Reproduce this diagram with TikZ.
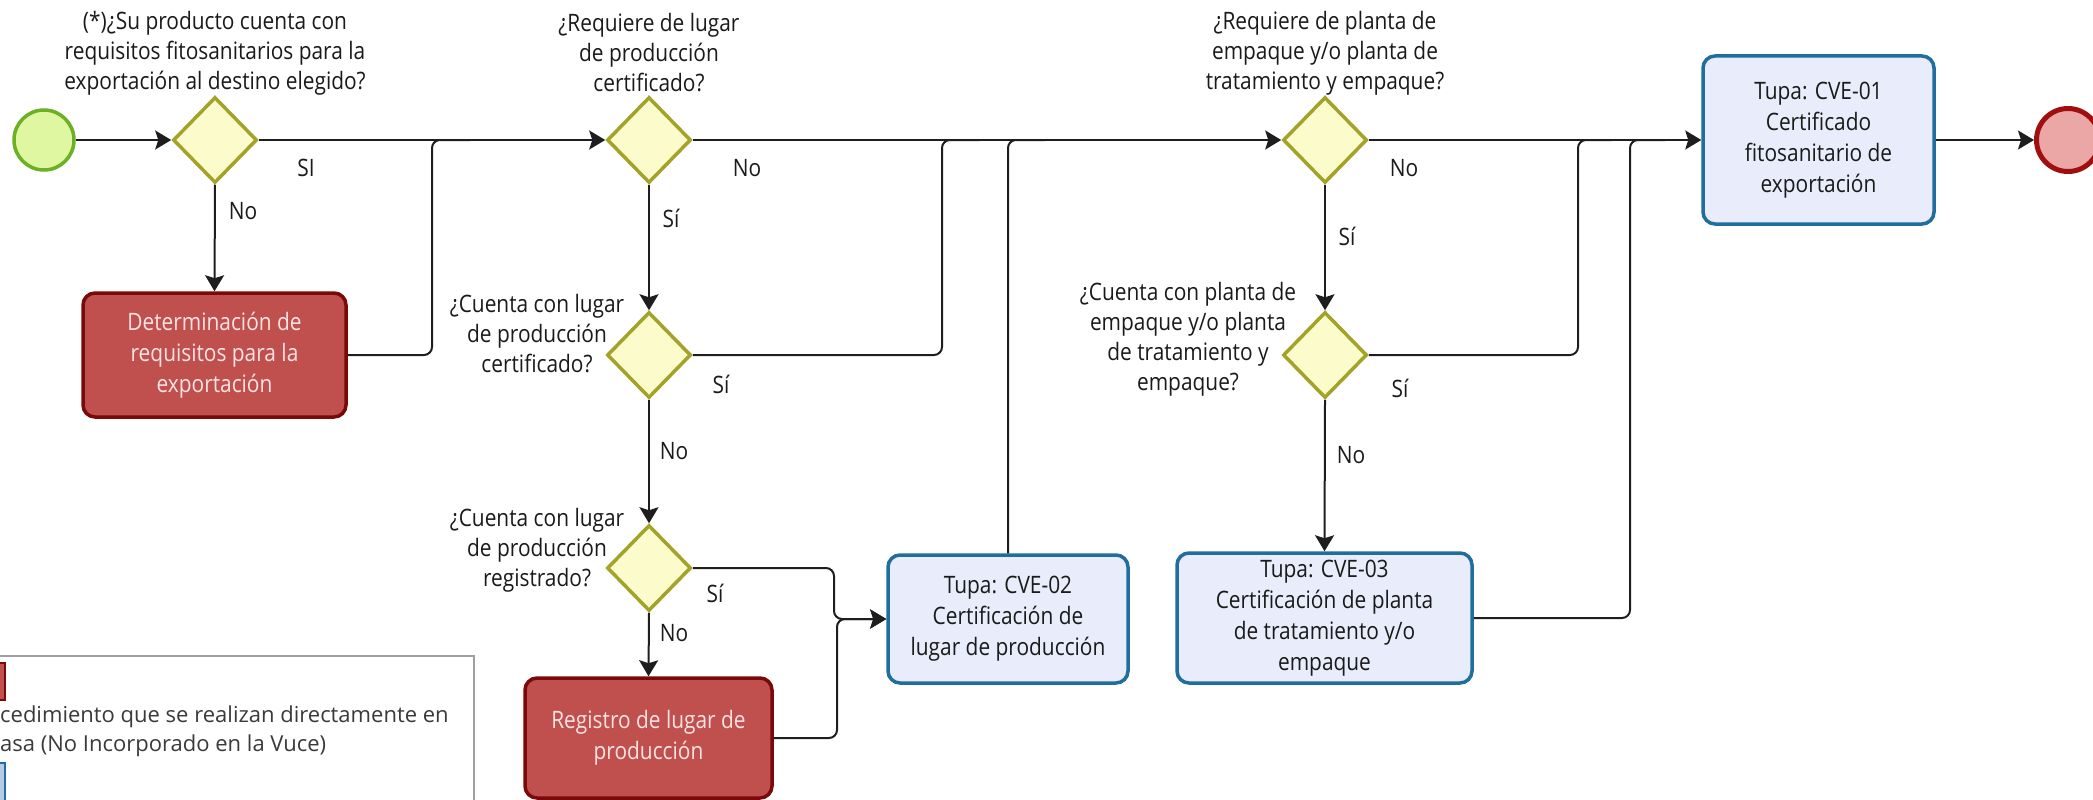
\documentclass[tikz,border=0pt]{standalone}
\usepackage{fontspec}
\setmainfont{Open Sans}[FakeStretch=0.87]
\newfontfamily\legfont{Open Sans}
\usetikzlibrary{shapes.geometric,arrows.meta}
\definecolor{gateF}{HTML}{FBFBCC}
\definecolor{gateB}{HTML}{A3A32A}
\definecolor{startF}{HTML}{DFF7A0}
\definecolor{startB}{HTML}{6CB023}
\definecolor{endF}{HTML}{EBA6A6}
\definecolor{endB}{HTML}{A00E0E}
\definecolor{redF}{HTML}{C0504E}
\definecolor{redB}{HTML}{7A0A0A}
\definecolor{redT}{HTML}{FBE3E3}
\definecolor{blueF}{HTML}{E9EDFB}
\definecolor{blueB}{HTML}{1F6E9E}
\definecolor{lineC}{HTML}{1E1E1E}
\definecolor{txt}{HTML}{1A1A1A}
\definecolor{legB}{HTML}{A0A0A0}
\definecolor{legT}{HTML}{3A3A3A}
\definecolor{legBlue}{HTML}{B8CAE8}
\begin{document}
\begin{tikzpicture}[x=1pt,y=-1pt,
  gate/.style={diamond, draw=gateB, fill=gateF, line width=3.5pt, minimum width=84pt, minimum height=86pt, inner sep=0pt},
  redbox/.style={draw=redB, fill=redF, line width=3.5pt, rounded corners=12pt, text=redT, align=center, inner sep=0pt, font=\fontsize{24}{31}\selectfont},
  bluebox/.style={draw=blueB, fill=blueF, line width=3.5pt, rounded corners=12pt, text=txt, align=center, inner sep=0pt, font=\fontsize{24}{31}\selectfont},
  lbl/.style={text=txt, align=center, inner sep=0pt, font=\fontsize{24}{30}\selectfont},
  flow/.style={draw=lineC, line width=2pt, rounded corners=8pt},
  arr/.style={-{Stealth[length=16pt,width=19pt,inset=3pt]}},
]
\useasboundingbox (0,0) rectangle (2093,800);
\clip (0,0) rectangle (2093,800);

% legend
\node[draw=legB, line width=1.5pt, fill=white, minimum width=483pt, minimum height=170pt, anchor=north west, inner sep=0pt] (leg) at (-10,655) {};
\node[draw=redB, fill=redF, line width=1.5pt, minimum width=12pt, minimum height=37pt, inner sep=0pt] (legred) at (-1,681.5) {};
\node[draw=blueB, fill=legBlue, line width=1.5pt, minimum width=12pt, minimum height=42pt, inner sep=0pt] (legblue) at (-1,784) {};
\node[anchor=west, inner sep=0pt, text=legT, font=\legfont\fontsize{22}{29}\selectfont] (leg1) at (0,717) {cedimiento que se realizan directamente en};
\node[anchor=west, inner sep=0pt, text=legT, font=\legfont\fontsize{22}{29}\selectfont] (leg2) at (0,746) {asa (No Incorporado en la Vuce)};

% events
\node[circle, draw=startB, fill=startF, line width=3.5pt, minimum size=60pt, inner sep=0pt] (start) at (44,140) {};
\node[circle, draw=endB, fill=endF, line width=5pt, minimum size=63pt, inner sep=0pt] (end) at (2068,140) {};

% gateways
\node[gate] (d1) at (215,140) {};
\node[gate] (d2) at (649,140) {};
\node[gate] (d3) at (649,355) {};
\node[gate] (d4) at (649,568) {};
\node[gate] (d5) at (1325,140) {};
\node[gate] (d6) at (1325,355) {};

% tasks
\node[redbox, minimum width=263pt, minimum height=124pt] (det) at (214.5,355) {Determinación de\\requisitos para la\\exportación};
\node[redbox, minimum width=247pt, minimum height=120pt] (reg) at (648.5,738) {Registro de lugar de\\producción};
\node[bluebox, minimum width=240pt, minimum height=128pt] (cve2) at (1008,619) {Tupa: CVE-02\\Certificación de\\lugar de producción};
\node[bluebox, minimum width=295pt, minimum height=130pt] (cve3) at (1324.5,618) {Tupa: CVE-03\\Certificación de planta\\de tratamiento y/o\\empaque};
\node[bluebox, minimum width=231pt, minimum height=168pt] (cve1) at (1818.5,140) {Tupa: CVE-01\\Certificado\\fitosanitario de\\exportación};

% question labels
\node[lbl] (q1) at (215,53) {(*)¿Su producto cuenta con\\requisitos fitosanitarios para la\\exportación al destino elegido?};
\node[lbl] (q2) at (649,53) {¿Requiere de lugar\\de producción\\certificado?};
\node[lbl] (q3) at (537,334) {¿Cuenta con lugar\\de producción\\certificado?};
\node[lbl] (q4) at (537,550) {¿Cuenta con lugar\\de producción\\registrado?};
\node[lbl] (q5) at (1325,53) {¿Requiere de planta de\\empaque y/o planta de\\tratamiento y empaque?};
\node[lbl] (q6) at (1188,339) {¿Cuenta con planta de\\empaque y/o planta\\de tratamiento y\\empaque?};

% branch labels
\node[lbl] (l1a) at (306,168) {SI};
\node[lbl] (l1b) at (243,211) {No};
\node[lbl] (l2a) at (747,168) {No};
\node[lbl] (l2b) at (671,218) {Sí};
\node[lbl] (l3a) at (721,384) {Sí};
\node[lbl] (l3b) at (674,451) {No};
\node[lbl] (l4a) at (715,593) {Sí};
\node[lbl] (l4b) at (674,633) {No};
\node[lbl] (l5a) at (1404,168) {No};
\node[lbl] (l5b) at (1347,236) {Sí};
\node[lbl] (l6a) at (1400,388) {Sí};
\node[lbl] (l6b) at (1351,455) {No};

% junction coordinates
\coordinate (c1) at (432,140);  \coordinate (c1r) at (470,140);
\coordinate (c3) at (942,140);  \coordinate (c3r) at (980,140);
\coordinate (c2r) at (1045,140);
\coordinate (c4) at (834,619);
\coordinate (c4b) at (837,619);
\coordinate (c6) at (1578,140); \coordinate (c6r) at (1612,140);
\coordinate (c7) at (1630,140); \coordinate (c7r) at (1665,140);

% connectors
\draw[flow,arr] (start) -- (d1);
\draw[flow,arr] (d1) -- (d2);
\draw[flow,arr] (d1.south) -- (det.north);
\draw[flow] (det.east) -| (c1) -- (c1r);
\draw[flow,arr] (d2) -- (d5);
\draw[flow,arr] (d2) -- (d3);
\draw[flow] (d3.east) -| (c3) -- (c3r);
\draw[flow,arr] (d3) -- (d4);
\draw[flow,arr] (d4.south) -- (reg.north);
\draw[flow,arr] (d4.east) -| (c4) -- (cve2.west);
\draw[flow,arr] (reg.east) -| (c4b) -- (cve2.west);
\draw[flow] (cve2.north) |- (c2r);
\draw[flow,arr] (d5) -- (cve1);
\draw[flow,arr] (d5) -- (d6);
\draw[flow] (d6.east) -| (c6) -- (c6r);
\draw[flow,arr] (d6.south) -- (cve3.north);
\draw[flow] (cve3.east) -| (c7) -- (c7r);
\draw[flow,arr] (cve1) -- (end);
\end{tikzpicture}
\end{document}
